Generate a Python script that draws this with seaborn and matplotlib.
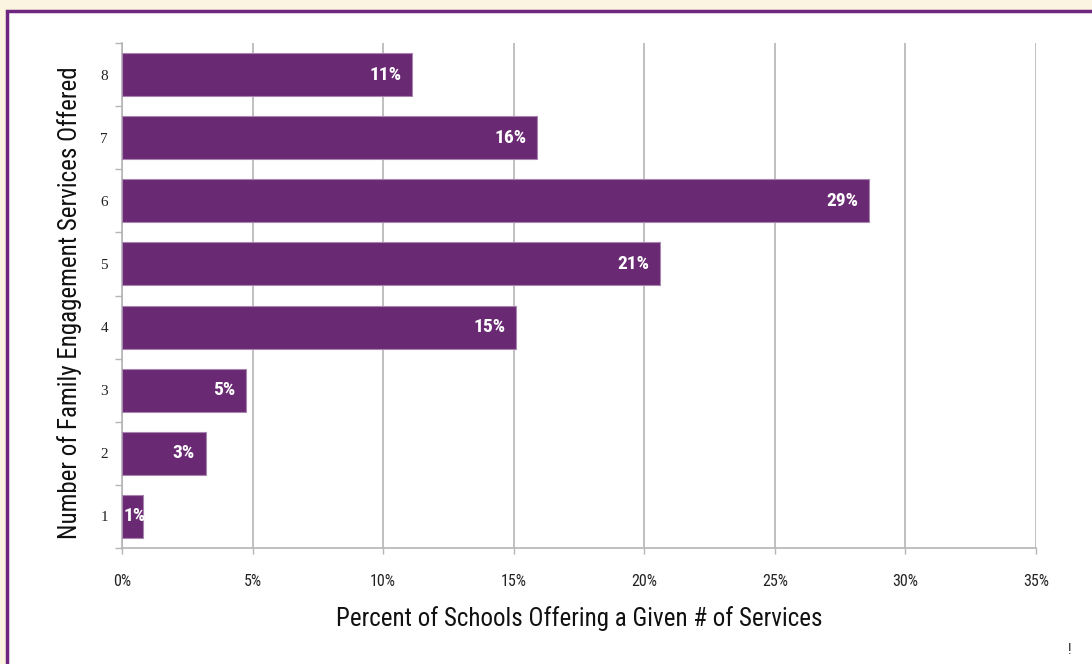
import matplotlib
matplotlib.use("Agg")
import matplotlib.pyplot as plt
from matplotlib.patches import Rectangle
import seaborn as sns
import pandas as pd

# Number of services offered and share of schools offering that many
services = ["8", "7", "6", "5", "4", "3", "2", "1"]
percent = [11.1, 15.9, 28.6, 20.6, 15.1, 4.75, 3.2, 0.8]
x_ticks = [0, 5, 10, 15, 20, 25, 30, 35]

df = pd.DataFrame({"services": services, "percent": percent})

sns.set_theme(style="white")
plt.rcParams["font.family"] = ["Roboto Condensed", "IBM Plex Sans Condensed", "DejaVu Sans"]
serif = ["Liberation Serif", "DejaVu Serif"]

cream = "#fbf4e0"
purple = "#6a2a73"
grid_gray = "#b5b5b5"

fig = plt.figure(figsize=(10.92, 6.64), dpi=100, facecolor=cream)
# white panel with purple border, behind the axes
frame = Rectangle((7 / 1092, -0.05), 1.1, 1 - 11 / 664 + 0.05,
                  transform=fig.transFigure, facecolor="white",
                  edgecolor="#6e2680", linewidth=2.5, zorder=-5)
fig.patches.append(frame)

ax = fig.add_axes([122 / 1092, 1 - 548 / 664, (1036 - 122) / 1092, (548 - 43) / 664])
ax.set_facecolor("none")

sns.barplot(data=df, x="percent", y="services", order=services, orient="h",
            color=purple, saturation=1, width=0.68, edgecolor="#a884b0",
            linewidth=0.8, ax=ax, zorder=3)

ax.set_xlim(0, 35)
ax.set_ylim(len(services) - 0.5, -0.5)
ax.set_xticks(x_ticks)
ax.set_xticklabels([f"{t}%" for t in x_ticks], fontsize=11.5, color="#222222")
ax.tick_params(axis="x", length=4, width=1, color=grid_gray, pad=15, direction="out",
               bottom=True)
ax.xaxis.grid(True, color=grid_gray, linewidth=1.2, zorder=0)
ax.set_axisbelow(True)

ax.set_yticks(range(len(services)))
ax.set_yticklabels(services, fontsize=11, family=serif, color="#222222")
ax.set_yticks([i - 0.5 for i in range(len(services) + 1)], minor=True)
ax.tick_params(axis="y", which="major", length=0, pad=10)
ax.tick_params(axis="y", which="minor", length=5, width=1, color=grid_gray, left=True)

for side in ["top", "right"]:
    ax.spines[side].set_visible(False)
for side in ["left", "bottom"]:
    ax.spines[side].set_color(grid_gray)
    ax.spines[side].set_linewidth(1.2)

for i, v in enumerate(percent):
    ax.text(max(v - 0.4, 0.9), i, f"{v:.0f}%", ha="right", va="center",
            color="white", fontsize=14, fontweight="bold", zorder=4)

ax.set_xlabel("Percent of Schools Offering a Given # of Services", fontsize=18,
              color="#111111", labelpad=12)
ax.set_ylabel("Number of Family Engagement Services Offered", fontsize=18,
              color="#111111", labelpad=12)
ax.yaxis.set_label_coords(-0.044, 0.485)

fig.text(1070 / 1092, 1 - 650 / 664, "!", fontsize=10, ha="center", va="center",
         color="#222222")

fig.savefig("out.png", dpi=100, facecolor=cream)
